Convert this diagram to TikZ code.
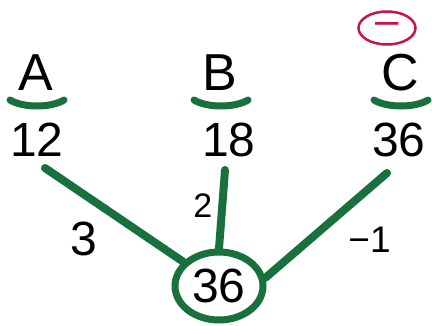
\documentclass[tikz,border=0pt]{standalone}
\usepackage{fontspec}
\setmainfont{Liberation Sans}
\usepackage{tikz}
\usetikzlibrary{shapes.geometric,positioning}
\definecolor{pen}{RGB}{24,112,60}
\definecolor{redpen}{RGB}{200,20,72}

\begin{document}
\begin{tikzpicture}[x=1pt, y=-1pt,
  ltr/.style={font=\fontsize{52}{56}\selectfont, inner sep=0pt},
  val/.style={font=\fontsize{48}{52}\selectfont, inner sep=0pt},
  wt/.style={font=\fontsize{34}{38}\selectfont, inner sep=0pt},
  arm/.style={draw=pen, line width=8pt, line cap=round},
  uline/.style={draw=pen, line width=7pt, line cap=round}]
\useasboundingbox (0,0) rectangle (432,325);
% letters and their values
\node[ltr] (a) at (36,73) {A};
\node[ltr] (b) at (220,73) {B};
\node[ltr] (c) at (400,73) {C};
\node[val] (va) at (37,140) {12};
\node[val] (vb) at (229,140) {18};
\node[val] (vc) at (399,140) {36};
\foreach \n in {a,b,c}
  \draw[uline] ([xshift=-26pt,yshift=-27pt]\n.center) .. controls +(13,8) and +(-13,8) .. ([xshift=28pt,yshift=-27pt]\n.center);
\node[draw=redpen, ellipse, line width=2.5pt, minimum width=57, minimum height=33, inner sep=0pt,
  text=redpen, font=\fontsize{42}{46}\selectfont] (neg) at (387,28) {–};
% root
\node[draw=pen, ellipse, line width=7pt, minimum width=88, minimum height=68, inner sep=0pt,
  font=\fontsize{48}{52}\selectfont] (root) at (219,286) {36};
\coordinate (ta) at (45,168);
\coordinate (tb) at (225,170);
\coordinate (tc) at (387,173);
\draw[arm] (ta) -- (root) node[wt, font=\fontsize{48}{52}\selectfont, pos=.45, below left=8pt and 6pt] {3};
\draw[arm] (tb) -- (root.north) node[wt, pos=.45, left=6pt] {2};
\draw[arm] (tc) -- (root.10) node[wt, font=\fontsize{37}{40}\selectfont, pos=.35, below right=13pt and 0pt] {−1};
\end{tikzpicture}
\end{document}
